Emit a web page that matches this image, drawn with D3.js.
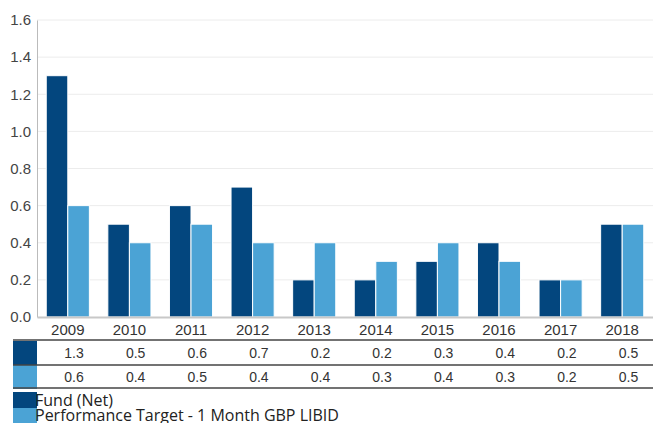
<!DOCTYPE html>
<html>
<head>
<meta charset="utf-8">
<script src="https://cdn.jsdelivr.net/npm/d3@7"></script>
<style>
  body { margin: 0; background: #fff; }
  text { font-family: "Open Sans", sans-serif; }
  .num { font-family: "Liberation Sans", Arial, sans-serif; }
</style>
</head>
<body>
<svg id="chart" width="653" height="423"></svg>
<script>
// chart data
const years = ['2009', '2010', '2011', '2012', '2013', '2014', '2015', '2016', '2017', '2018'];
const fundNet = [1.3, 0.5, 0.6, 0.7, 0.2, 0.2, 0.3, 0.4, 0.2, 0.5];
const target = [0.6, 0.4, 0.5, 0.4, 0.4, 0.3, 0.4, 0.3, 0.2, 0.5];
const seriesNames = ['Fund (Net)', 'Performance Target - 1 Month GBP LIBID'];
const yTicks = [0, 0.2, 0.4, 0.6, 0.8, 1.0, 1.2, 1.4, 1.6];

const colors = ['#03467e', '#4ba3d5'];
const series = [fundNet, target];

const svg = d3.select('#chart');
const plotLeft = 37, plotRight = 653, plotTop = 20, plotBottom = 317;

const x = d3.scaleBand().domain(years).range([plotLeft, plotRight]).paddingInner(0.3).paddingOuter(0.15);
const xs = d3.scaleBand().domain([0, 1]).range([0, x.bandwidth()]);
const y = d3.scaleLinear().domain([0, 1.6]).range([plotBottom, plotTop]);

// grid lines
svg.append('g')
  .selectAll('line')
  .data(yTicks.slice(1))
  .enter()
  .append('line')
  .attr('x1', plotLeft).attr('x2', plotRight)
  .attr('y1', d => y(d)).attr('y2', d => y(d))
  .attr('stroke', '#ececec')
  .attr('stroke-width', 1);

// y axis
const yAxis = svg.append('g')
  .attr('transform', `translate(${plotLeft},0)`)
  .call(d3.axisLeft(y).tickValues(yTicks).tickFormat(d3.format('.1f')).tickSize(0).tickPadding(6));
yAxis.select('.domain').attr('stroke', '#bbb');
yAxis.selectAll('text').attr('class', 'num').attr('font-size', 15).attr('fill', '#444');

// bars
years.forEach((yr, i) => {
  svg.append('g')
    .selectAll('rect')
    .data(series.map((s, k) => ({ k, v: s[i] })))
    .enter()
    .append('rect')
    .attr('x', d => x(yr) + xs(d.k))
    .attr('y', d => y(d.v))
    .attr('width', xs.bandwidth())
    .attr('height', d => plotBottom - y(d.v))
    .attr('fill', d => colors[d.k])
    .attr('stroke', '#fff')
    .attr('stroke-width', 1);
});

// x axis
const xAxis = svg.append('g')
  .attr('transform', `translate(0,${plotBottom})`)
  .call(d3.axisBottom(x).tickSize(0).tickPadding(7));
xAxis.select('.domain').attr('stroke', '#c8c8c8').attr('stroke-width', 2);
xAxis.selectAll('text').attr('class', 'num').attr('font-size', 15).attr('fill', '#333');

// data table
const tableLeft = 13, rowTop = 341, rowH = 24;
series.forEach((s, k) => {
  const ry = rowTop + k * rowH;
  svg.append('rect')
    .attr('x', tableLeft).attr('y', ry)
    .attr('width', plotLeft - tableLeft).attr('height', rowH)
    .attr('fill', colors[k]);
  svg.append('g')
    .selectAll('text')
    .data(s)
    .enter()
    .append('text')
    .attr('class', 'num')
    .attr('x', (d, i) => x(years[i]) + x.bandwidth() / 2 + 16)
    .attr('y', ry + rowH / 2 + 5)
    .attr('text-anchor', 'end')
    .attr('font-size', 14)
    .attr('fill', '#333')
    .text(d => d3.format('.1f')(d));
});
[rowTop - 1, rowTop + rowH, rowTop + 2 * rowH - 1].forEach(ly => {
  svg.append('line')
    .attr('x1', tableLeft).attr('x2', plotRight)
    .attr('y1', ly).attr('y2', ly)
    .attr('stroke', '#444').attr('stroke-width', 1.5);
});

// legend
seriesNames.forEach((name, k) => {
  const ly = 392 + k * 16;
  svg.append('rect')
    .attr('x', tableLeft).attr('y', ly)
    .attr('width', plotLeft - tableLeft).attr('height', 16)
    .attr('fill', colors[k]);
  svg.append('text')
    .attr('x', 35)
    .attr('y', 406 + k * 15)
    .attr('font-size', 16)
    .attr('fill', '#222')
    .text(name);
});
</script>
</body>
</html>
